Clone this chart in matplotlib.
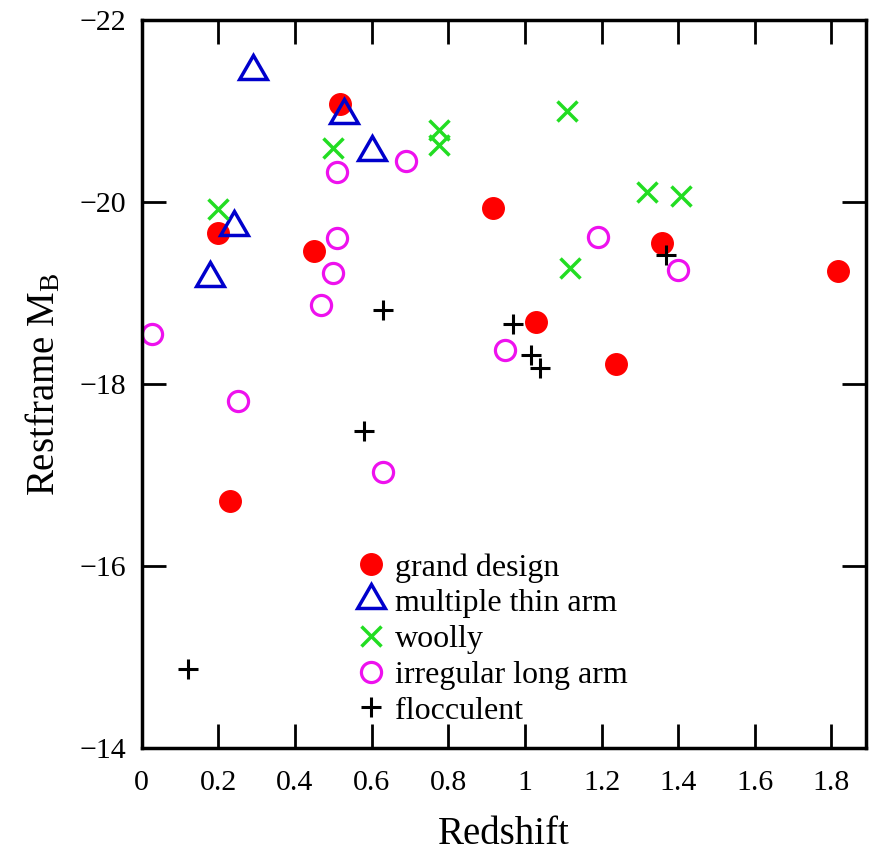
import numpy as np
import matplotlib
matplotlib.use("Agg")
import matplotlib.pyplot as plt

plt.rcParams["font.family"] = ["Liberation Serif", "DejaVu Serif"]
plt.rcParams["mathtext.fontset"] = "custom"
plt.rcParams["mathtext.rm"] = "Liberation Serif"
plt.rcParams["mathtext.it"] = "Liberation Serif:italic"

# data (redshift, restframe M_B)
grand_z = [0.518, 0.20, 0.45, 0.918, 1.358, 1.818, 1.03, 1.239, 0.231]
grand_m = [-21.08, -19.66, -19.46, -19.94, -19.55, -19.24, -18.68, -18.22, -16.72]

thin_z = [0.29, 0.528, 0.60, 0.241, 0.179]
thin_m = [-21.44, -20.96, -20.55, -19.73, -19.17]

woolly_z = [0.50, 0.777, 0.777, 1.109, 0.20, 1.319, 1.408, 1.118]
woolly_m = [-20.60, -20.79, -20.63, -21.0, -19.92, -20.11, -20.07, -19.28]

irr_z = [0.509, 0.69, 0.509, 0.50, 1.19, 1.399, 0.469, 0.028, 0.949, 0.251, 0.629]
irr_m = [-20.33, -20.45, -19.61, -19.22, -19.62, -19.26, -18.87, -18.55, -18.38, -17.82, -17.03]

floc_z = [1.368, 0.629, 0.968, 1.017, 1.039, 0.58, 0.12]
floc_m = [-19.42, -18.81, -18.66, -18.32, -18.18, -17.49, -14.87]

xticks = [0, 0.2, 0.4, 0.6, 0.8, 1, 1.2, 1.4, 1.6, 1.8]
xticklabels = ["0", "0.2", "0.4", "0.6", "0.8", "1", "1.2", "1.4", "1.6", "1.8"]
yticks = [-22, -20, -18, -16, -14]

fig = plt.figure(figsize=(8.69, 8.59), dpi=100)
ax = fig.add_axes([0.163, 0.129, 0.8335, 0.8475])

ax.plot(grand_z, grand_m, "o", color="#ff0000", ms=15.5, mec="#ff0000", ls="none", label="grand design")
ax.plot(thin_z, thin_m, marker=(3, 0, 0), color="#0000cc", ms=23, mfc="none", mew=2.5, ls="none",
        label="multiple thin arm")
ax.plot(woolly_z, woolly_m, "x", color="#22dd22", ms=15, mew=2.5, ls="none", label="woolly")
ax.plot(irr_z, irr_m, "o", color="#ee11ee", ms=14.5, mfc="none", mew=2.3, ls="none",
        label="irregular long arm")
ax.plot(floc_z, floc_m, "+", color="black", ms=15, mew=2.2, ls="none", label="flocculent")

ax.set_xlim(0, 1.89)
ax.set_ylim(-14, -22)
ax.set_xticks(xticks)
ax.set_xticklabels(xticklabels)
ax.set_yticks(yticks)

for s in ax.spines.values():
    s.set_linewidth(2.5)
ax.tick_params(direction="in", length=17, width=2, top=True, right=True, labelsize=21.5)
ax.tick_params(axis="x", pad=16)
ax.tick_params(axis="y", pad=11)

ax.set_xlabel("Redshift", fontsize=28, labelpad=14)
ax.set_ylabel(r"Restframe M$_\mathrm{B}$", fontsize=28, labelpad=12)

ax.legend(loc="lower left", bbox_to_anchor=(0.294, 0.031), frameon=False, fontsize=23,
          numpoints=1, handlelength=1.0, handletextpad=0.26, borderpad=0, borderaxespad=0,
          labelspacing=0.2)

fig.savefig("out.png", dpi=100)
